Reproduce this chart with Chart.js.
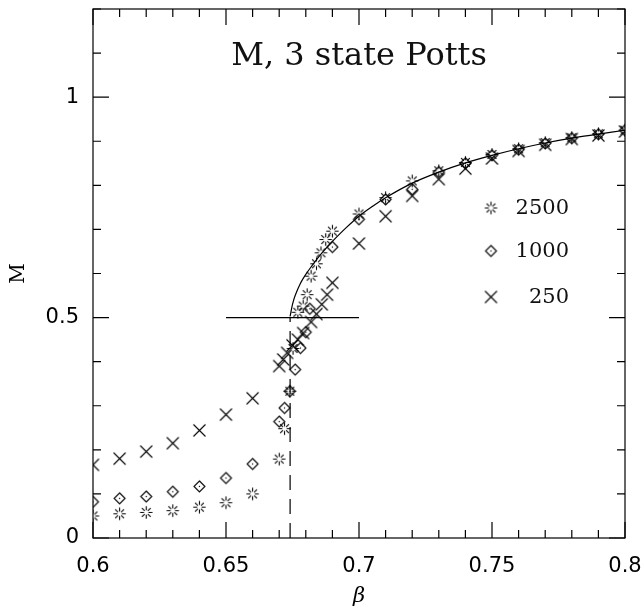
<!DOCTYPE html>
<html>
<head>
<meta charset="utf-8">
<script src="https://cdn.jsdelivr.net/npm/chart.js@4/dist/chart.umd.min.js"></script>
<style>
  html, body { margin: 0; padding: 0; background: #fff; }
</style>
</head>
<body>
<canvas id="potts" width="643" height="609"></canvas>
<script>
// valeurs
const beta2500 = [0.60, 0.61, 0.62, 0.63, 0.64, 0.65, 0.66, 0.67, 0.672, 0.674, 0.6752, 0.677, 0.679, 0.6805, 0.682, 0.684, 0.6857, 0.6875, 0.690, 0.70, 0.71, 0.72, 0.73, 0.74, 0.75, 0.76, 0.77, 0.78, 0.79, 0.80];
const m2500 = [0.050, 0.055, 0.058, 0.062, 0.070, 0.080, 0.100, 0.179, 0.248, 0.333, 0.430, 0.512, 0.526, 0.552, 0.594, 0.622, 0.647, 0.677, 0.696, 0.735, 0.772, 0.810, 0.833, 0.852, 0.870, 0.883, 0.897, 0.908, 0.917, 0.925];

const beta1000 = [0.60, 0.61, 0.62, 0.63, 0.64, 0.65, 0.66, 0.67, 0.672, 0.674, 0.676, 0.678, 0.680, 0.6815, 0.690, 0.70, 0.71, 0.72, 0.73, 0.74, 0.75, 0.76, 0.77, 0.78, 0.79, 0.80];
const m1000 = [0.082, 0.090, 0.094, 0.105, 0.117, 0.136, 0.168, 0.264, 0.295, 0.333, 0.382, 0.431, 0.467, 0.520, 0.660, 0.723, 0.768, 0.791, 0.830, 0.850, 0.868, 0.881, 0.895, 0.907, 0.916, 0.925];

const beta250 = [0.60, 0.61, 0.62, 0.63, 0.64, 0.65, 0.66, 0.67, 0.6715, 0.673, 0.675, 0.677, 0.679, 0.682, 0.684, 0.686, 0.688, 0.690, 0.70, 0.71, 0.72, 0.73, 0.74, 0.75, 0.76, 0.77, 0.78, 0.79, 0.80];
const m250 = [0.166, 0.180, 0.196, 0.215, 0.244, 0.280, 0.317, 0.390, 0.405, 0.420, 0.437, 0.450, 0.465, 0.490, 0.508, 0.530, 0.552, 0.579, 0.668, 0.730, 0.776, 0.814, 0.838, 0.861, 0.878, 0.892, 0.905, 0.913, 0.922];

// courbe d'ajustement
const fitBeta = [0.6741, 0.675, 0.676, 0.678, 0.680, 0.682, 0.684, 0.686, 0.688, 0.690, 0.695, 0.700, 0.705, 0.710, 0.720, 0.730, 0.740, 0.750, 0.760, 0.770, 0.780, 0.790, 0.800];
const fitM = [0.503, 0.530, 0.550, 0.578, 0.598, 0.615, 0.631, 0.646, 0.660, 0.673, 0.703, 0.730, 0.752, 0.772, 0.805, 0.830, 0.851, 0.868, 0.883, 0.896, 0.907, 0.916, 0.925];

// lignes de repère : beta critique et M = 0.5
const betaCrit = 0.6741;
const critM = [0, 0.5];
const halfBeta = [0.65, 0.70];
const halfM = 0.5;

const xTickValues = [0.6, 0.65, 0.7, 0.75, 0.8];
const yTickValues = [0, 0.5, 1];
const seriesLabels = ['2500', '1000', '250'];

const toPoints = (xs, ys) => xs.map((v, i) => ({ x: v, y: ys[i] }));

// petits canvas pour les symboles
function makeMarker(kind) {
  const c = document.createElement('canvas');
  c.width = 17; c.height = 17;
  const g = c.getContext('2d');
  g.strokeStyle = '#000';
  g.fillStyle = '#000';
  g.lineWidth = 1.1;
  g.translate(8.5, 8.5);
  g.beginPath();
  if (kind === 'burst') {
    for (let k = 0; k < 8; k++) {
      const a = k * Math.PI / 4;
      g.moveTo(2.2 * Math.cos(a), 2.2 * Math.sin(a));
      g.lineTo(6.2 * Math.cos(a), 6.2 * Math.sin(a));
    }
    g.stroke();
  } else if (kind === 'diamond') {
    g.moveTo(0, -5.5); g.lineTo(5.5, 0); g.lineTo(0, 5.5); g.lineTo(-5.5, 0); g.closePath();
    g.stroke();
    g.fillRect(-0.6, -0.6, 1.2, 1.2);
  } else {
    g.moveTo(-6, -6); g.lineTo(6, 6);
    g.moveTo(6, -6); g.lineTo(-6, 6);
    g.stroke();
  }
  return c;
}

const markers = [makeMarker('burst'), makeMarker('diamond'), makeMarker('cross')];

// cadre, graduations internes, titre et légende
const framePlugin = {
  id: 'framePlugin',
  afterDatasetsDraw(chart) {
    const { ctx, chartArea: a, scales: { x, y } } = chart;
    ctx.save();
    ctx.strokeStyle = '#000';
    ctx.lineWidth = 1.2;
    ctx.strokeRect(a.left, a.top, a.right - a.left, a.bottom - a.top);
    ctx.beginPath();
    for (let i = 0; i <= 20; i++) {
      const px = x.getPixelForValue(0.6 + i * 0.01);
      const len = i % 5 === 0 ? 16 : 8;
      ctx.moveTo(px, a.bottom); ctx.lineTo(px, a.bottom - len);
      ctx.moveTo(px, a.top); ctx.lineTo(px, a.top + len);
    }
    for (let i = 0; i <= 12; i++) {
      const py = y.getPixelForValue(i * 0.1);
      const len = i % 5 === 0 ? 16 : 8;
      ctx.moveTo(a.left, py); ctx.lineTo(a.left + len, py);
      ctx.moveTo(a.right, py); ctx.lineTo(a.right - len, py);
    }
    ctx.stroke();

    ctx.fillStyle = '#111';
    ctx.font = '32px "DejaVu Serif"';
    ctx.textAlign = 'center';
    ctx.textBaseline = 'alphabetic';
    ctx.fillText('M, 3 state Potts', 359, 65);

    ctx.font = '21px "DejaVu Serif"';
    ctx.textAlign = 'right';
    ctx.textBaseline = 'middle';
    const legendY = [208, 251, 297];
    seriesLabels.forEach((lab, i) => {
      const m = markers[i];
      ctx.drawImage(m, 491 - m.width / 2, legendY[i] - m.height / 2);
      ctx.fillText(lab, 569, legendY[i] + 1);
    });
    ctx.restore();
  }
};

// pas de marge automatique : la zone du graphe est fixée à la main
function noPadding(s) {
  s.paddingTop = 0; s.paddingBottom = 0; s.paddingLeft = 0; s.paddingRight = 0;
}

const lineStyle = { showLine: true, pointRadius: 0, borderColor: '#000', borderWidth: 1.2, fill: false };

new Chart(document.getElementById('potts'), {
  type: 'scatter',
  data: {
    datasets: [
      { ...lineStyle, label: 'fit', data: toPoints(fitBeta, fitM), tension: 0.3 },
      { ...lineStyle, label: 'crit', data: toPoints([betaCrit, betaCrit], critM), borderDash: [15, 9] },
      { ...lineStyle, label: 'half', data: toPoints(halfBeta, [halfM, halfM]) },
      { label: seriesLabels[0], data: toPoints(beta2500, m2500), pointStyle: markers[0], pointRadius: 6 },
      { label: seriesLabels[1], data: toPoints(beta1000, m1000), pointStyle: markers[1], pointRadius: 6 },
      { label: seriesLabels[2], data: toPoints(beta250, m250), pointStyle: markers[2], pointRadius: 6 },
    ],
  },
  options: {
    responsive: false,
    devicePixelRatio: 1,
    animation: false,
    layout: { padding: { top: 9, right: 18, left: 0, bottom: 0 }, autoPadding: false },
    plugins: { legend: { display: false }, tooltip: { enabled: false } },
    scales: {
      x: {
        type: 'linear',
        min: 0.6,
        max: 0.8,
        grid: { display: false, drawTicks: false },
        border: { display: false },
        afterBuildTicks: (s) => { s.ticks = xTickValues.map((v) => ({ value: v })); },
        afterFit: (s) => { s.height = 71; noPadding(s); },
        ticks: {
          padding: 16,
          color: '#000',
          font: { family: 'DejaVu Sans', size: 21 },
          callback: (v) => String(v),
        },
        title: {
          display: true,
          text: 'β',
          color: '#000',
          padding: 0,
          font: { family: 'DejaVu Serif', size: 21, style: 'italic' },
        },
      },
      y: {
        type: 'linear',
        min: 0,
        max: 1.2,
        grid: { display: false, drawTicks: false },
        border: { display: false },
        afterBuildTicks: (s) => { s.ticks = yTickValues.map((v) => ({ value: v })); },
        afterFit: (s) => { s.width = 93; noPadding(s); },
        ticks: {
          padding: 14,
          color: '#000',
          font: { family: 'DejaVu Sans', size: 21 },
          callback: (v) => String(v),
        },
        title: {
          display: true,
          text: 'M',
          color: '#000',
          padding: { top: 7, bottom: 0 },
          font: { family: 'DejaVu Serif', size: 20 },
        },
      },
    },
  },
  plugins: [framePlugin],
});
</script>
</body>
</html>
